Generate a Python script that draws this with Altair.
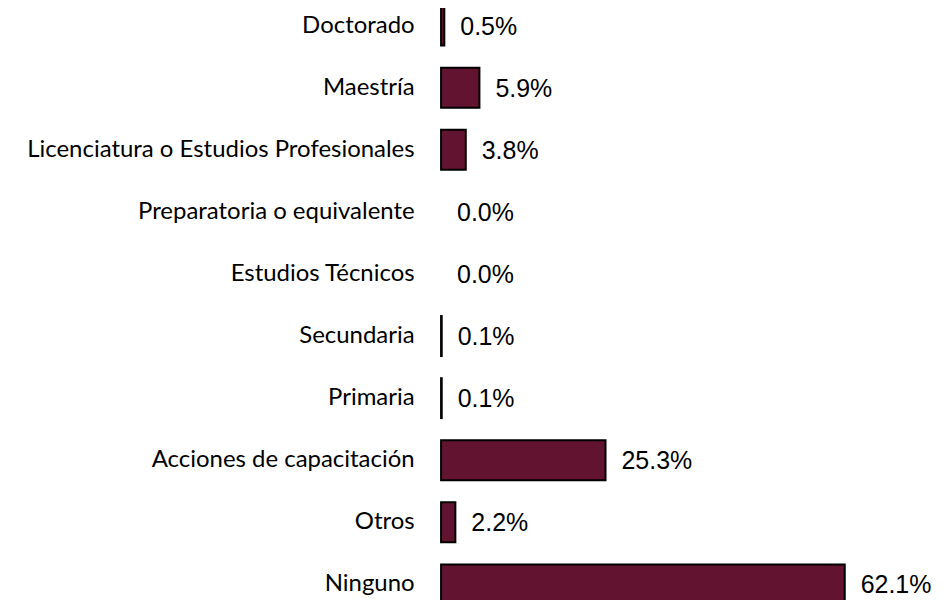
import altair as alt
import pandas as pd

categories = ["Doctorado", "Maestría", "Licenciatura o Estudios Profesionales",
              "Preparatoria o equivalente", "Estudios Técnicos", "Secundaria",
              "Primaria", "Acciones de capacitación", "Otros", "Ninguno"]
values = [0.5, 5.9, 3.8, 0.0, 0.0, 0.1, 0.1, 25.3, 2.2, 62.1]
value_labels = ["0.5%", "5.9%", "3.8%", "0.0%", "0.0%", "0.1%", "0.1%", "25.3%", "2.2%", "62.1%"]

df = pd.DataFrame({"cat": categories, "val": values, "lab": value_labels})

y_enc = alt.Y("cat:N", sort=categories, title=None,
              scale=alt.Scale(paddingInner=0.357, paddingOuter=0),
              axis=alt.Axis(domain=False, ticks=False, labelPadding=27,
                            labelFont="Lato", labelFontSize=24, labelColor="#000000",
                            labelLimit=500))
x_scale = alt.Scale(domain=[0, 70])

bars = alt.Chart(df).transform_filter("datum.val > 0").mark_bar(
    color="#62132F", stroke="#000000", strokeWidth=2
).encode(
    y=y_enc,
    x=alt.X("val:Q", scale=x_scale, axis=None),
)

text = alt.Chart(df).mark_text(
    align="left", baseline="middle", dx=16, dy=1, font="Liberation Sans", fontSize=25, color="#000000"
).encode(
    y=alt.Y("cat:N", sort=categories),
    x=alt.X("val:Q", scale=x_scale),
    text="lab:N",
)

chart = (bars + text).properties(
    width=456, height=600,
    autosize=alt.AutoSizeParams(type="none"),
    padding={"left": 434, "top": -3, "right": 40, "bottom": -3},
).configure_view(stroke=None)

chart.save("out.html", embed_options={"renderer": "svg", "actions": False})
